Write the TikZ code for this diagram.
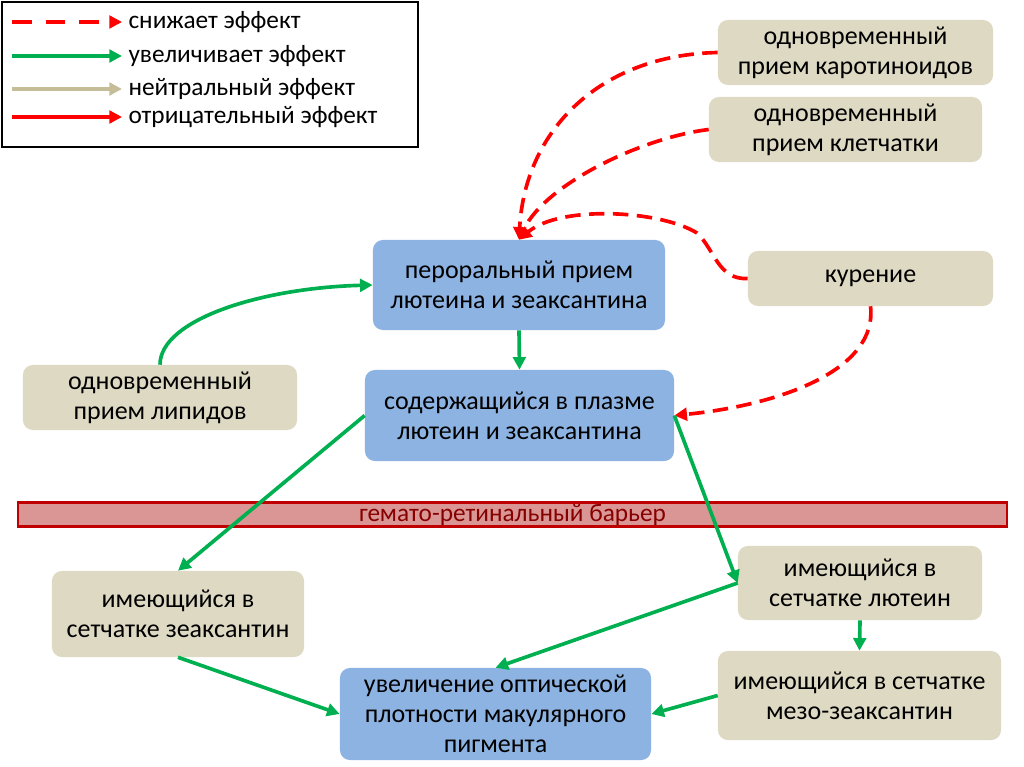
\documentclass[tikz,border=0pt]{standalone}
\usepackage{fontspec}
\setmainfont{Carlito}
\usetikzlibrary{arrows.meta}
\definecolor{tan}{HTML}{DDD9C3}
\definecolor{sky}{HTML}{8DB3E2}
\definecolor{grn}{HTML}{00B050}
\definecolor{neut}{HTML}{C4BD97}
\definecolor{barfill}{HTML}{D99694}
\definecolor{barline}{HTML}{C00000}
\begin{document}
\begin{tikzpicture}[x=0.025cm,y=-0.025cm,
    box/.style={rounded corners=7pt, inner sep=0pt, align=center,
      font=\fontsize{18.5}{21.5}\selectfont},
    tanbox/.style={box, fill=tan},
    bluebox/.style={box, fill=sky},
    tip/.style={-{Triangle[length=9pt,width=9pt]}, line width=2.6pt},
    up/.style={tip, draw=grn},
    down/.style={tip, draw=red, dash pattern=on 11pt off 6pt},
    key/.style={right, black, font=\fontsize{18}{21}\selectfont}]
  \useasboundingbox (0,0) rectangle (1024,767);

  \draw[line width=1.4pt] (2,2) rectangle (418,147);
  \draw[down, dash pattern=on 14pt off 10pt] (12,22) -- (122,22) node[key] {снижает эффект};
  \draw[up] (12,56) -- (122,56) node[key] {увеличивает эффект};
  \draw[tip, draw=neut] (12,89) -- (122,89) node[key] {нейтральный эффект};
  \draw[tip, draw=red] (12,117) -- (122,117) node[key] {отрицательный эффект};

  \node[tanbox, minimum width=6.875cm, minimum height=1.625cm] (carot) at (855.5,52.5) {одновременный\\прием каротиноидов};
  \node[tanbox, minimum width=6.825cm, minimum height=1.625cm] (fiber) at (845.5,129.5) {одновременный\\прием клетчатки};
  \node[tanbox, minimum width=6.125cm, minimum height=1.375cm] (smoke) at (870.5,278.5) {курение};
  \node[bluebox, minimum width=7.3cm, minimum height=2.25cm] (oral) at (519,285) {пероральный прием\\лютеина и зеаксантина};
  \node[tanbox, minimum width=6.85cm, minimum height=1.625cm] (lipid) at (160,397.5) {одновременный\\прием липидов};
  \node[bluebox, minimum width=7.725cm, minimum height=2.275cm] (plasma) at (519.5,415.5) {содержащийся в плазме\\лютеин и зеаксантина};
  \node[draw=barline, fill=barfill, line width=1.5pt, minimum width=24.7cm, minimum height=0.6cm, inner sep=0pt,
    text=barline!70!black, font=\fontsize{18}{21}\selectfont] (barrier) at (512.5,514.5) {гемато-ретинальный барьер};
  \node[tanbox, minimum width=6.3cm, minimum height=2.15cm] (zeax) at (178,614) {имеющийся в\\сетчатке зеаксантин};
  \node[tanbox, minimum width=6.1cm, minimum height=1.85cm] (lut) at (860,583) {имеющийся в\\сетчатке лютеин};
  \node[tanbox, minimum width=7.075cm, minimum height=2.225cm] (meso) at (859.5,695.5) {имеющийся в сетчатке\\мезо-зеаксантин};
  \node[bluebox, minimum width=7.775cm, minimum height=2.3cm] (optic) at (495.5,714) {увеличение оптической\\плотности макулярного\\пигмента};

  \draw[down] (carot.west) .. controls (600,55) and (525,130) .. (oral.north);
  \draw[down] (fiber.west) .. controls (640,138) and (545,185) .. (oral.north);
  \draw[down] (smoke.west) .. controls (718,280) and (715,250) .. (697,233)
    .. controls (660,210) and (560,205) .. (oral.north);
  \draw[down] (smoke.south) .. controls (878,370) and (780,405) .. (plasma.east);
  \draw[up] (lipid.north) .. controls (160,320) and (260,288) .. (oral.west);
  \draw[up] (oral.south) -- (plasma.north);
  \draw[up] (plasma.west) -- (zeax.north);
  \draw[up] (plasma.east) -- (lut.west);
  \draw[up] (lut.west) -- (optic.north);
  \draw[up] (lut.south) -- (meso.north);
  \draw[up] (zeax.south) -- (optic.west);
  \draw[up] (meso.west) -- (optic.east);
\end{tikzpicture}
\end{document}
